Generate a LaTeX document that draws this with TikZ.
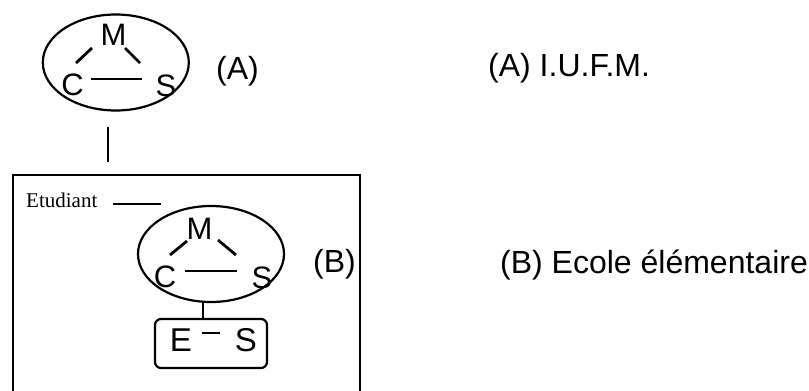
\documentclass[tikz,border=0pt]{standalone}
\usepackage{fontspec}
\setmainfont{Liberation Sans}
\newfontfamily\serifface{Liberation Serif}
\usetikzlibrary{shapes.geometric,calc}

\begin{document}
\begin{tikzpicture}[x=1pt,y=-1pt,
  ell/.style={draw, ellipse, line width=2.2pt, minimum width=146pt, minimum height=96pt, inner sep=0pt},
  letter/.style={inner sep=0pt, font=\fontsize{31}{31}\selectfont},
  bigletter/.style={inner sep=0pt, font=\fontsize{33}{33}\selectfont},
  label/.style={inner sep=0pt, anchor=base west, font=\fontsize{32}{32}\selectfont},
  tick/.style={line width=2.8pt},
  link/.style={line width=2.4pt},
  esframe/.style={draw, rounded corners=6pt, line width=2.2pt, minimum width=112pt, minimum height=49pt, inner sep=0pt},
]
\useasboundingbox (0,0) rectangle (809,391);

% ---- (A) triangle inside its ellipse
\node[ell] (ellA) at (115.8,62.5) {};
\node[letter] (MA) at (113.5,35) {M};
\node[letter] (CA) at (72.5,84.5) {C};
\node[letter] (SA) at (166,86) {S};
\draw[tick] ($(CA)+(3.5,-21.5)$) -- ($(MA)+(-21.5,13)$);
\draw[tick] ($(MA)+(11.5,13)$) -- ($(SA)+(-26,-23)$);
\draw[tick] ($(CA)+(18.5,-5.5)$) -- ($(SA)+(-24,-7)$);
\node[label] (labA) at (216,79) {(A)};

% link down to the school frame
\draw[link] ($(ellA.south)+(-8,15)$) -- ($(ellA.south)+(-8,50)$);

% ---- school frame (open at the bottom)
\draw[line width=2.6pt] (13,395) -- (13,175) -- (360,175) -- (360,395);

\node[inner sep=0pt, anchor=base west, font=\serifface\fontsize{21}{21}\selectfont] (etud) at (26,207) {Etudiant};
\draw[line width=1.4pt] ($(etud.base east)+(15,-3)$) -- ($(etud.base east)+(63,-3)$);

% ---- (B) triangle inside its ellipse
\node[ell] (ellB) at (211,254) {};
\node[letter] (MB) at (199.5,229) {M};
\node[letter] (CB) at (165,277) {C};
\node[letter] (SB) at (262,278) {S};
\draw[tick] ($(CB)+(5,-22)$) -- ($(MB)+(-12.5,12)$);
\draw[tick] ($(MB)+(18.5,11)$) -- ($(SB)+(-26,-23)$);
\draw[tick] ($(CB)+(20,-6)$) -- ($(SB)+(-25,-7)$);
\node[label] (labB) at (313,272) {(B)};

% ---- student / knowledge box
\node[esframe] (es) at (211,343.5) {};
\node[bigletter] (E) at (181,340) {E};
\node[bigletter] (SE) at (246,340) {S};
\draw[tick] ($(E)+(21,-7)$) -- ($(SE)+(-26,-7)$);
\draw[link] ([xshift=-8pt]es.north) -- ([xshift=-8pt]ellB.south);

% ---- legend
\node[label] (legA) at (488,76) {(A) I.U.F.M.};
\node[label] (legB) at (500,273) {(B) Ecole élémentaire};
\end{tikzpicture}
\end{document}
